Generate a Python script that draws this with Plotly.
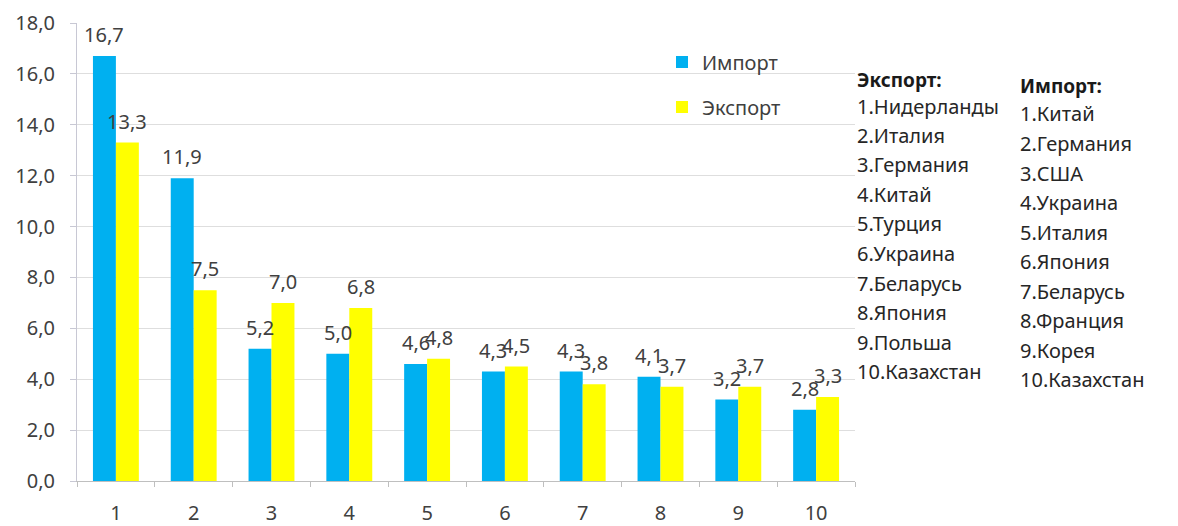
import plotly.graph_objects as go

# ---------------- data ----------------
categories = [str(i) for i in range(1, 11)]
import_values = [16.7, 11.9, 5.2, 5.0, 4.6, 4.3, 4.3, 4.1, 3.2, 2.8]
export_values = [13.3, 7.5, 7.0, 6.8, 4.8, 4.5, 3.8, 3.7, 3.7, 3.3]
y_ticks = [0, 2, 4, 6, 8, 10, 12, 14, 16, 18]
export_title = "Экспорт:"
export_partners = ["Нидерланды", "Италия", "Германия", "Китай", "Турция",
                   "Украина", "Беларусь", "Япония", "Польша", "Казахстан"]
import_title = "Импорт:"
import_partners = ["Китай", "Германия", "США", "Украина", "Италия",
                   "Япония", "Беларусь", "Франция", "Корея", "Казахстан"]

# ---------------- style ----------------
OFF = 8                       # page body margin
W, H = 1170, 518
ML, MR, MT, MB = 69, 323, 15, 45
PW, PH = W - ML - MR, H - MT - MB
FONT = "Noto Sans"
TXT = "#404040"
BLUE = "#00B0F0"
YELLOW = "#FFFF00"


def px_x(px):
    return (px - OFF - ML) / PW


def px_y(py):
    return (H - MB - (py - OFF)) / PH


fig = go.Figure()
fig.add_trace(go.Bar(x=categories, y=import_values, name="Импорт",
                     marker=dict(color=BLUE, line=dict(width=0)),
                     legend="legend"))
fig.add_trace(go.Bar(x=categories, y=export_values, name="Экспорт",
                     marker=dict(color=YELLOW, line=dict(width=0)),
                     legend="legend2"))

annotations = []
half = PW / len(categories) * (1 - 0.41) / 4
for vals, sh in ((import_values, -half), (export_values, half)):
    for i, v in enumerate(vals):
        annotations.append(dict(
            x=i, y=v, xref="x", yref="y", text=f"{v:.1f}".replace(".", ","),
            showarrow=False, xshift=sh, yshift=6, yanchor="bottom",
            font=dict(family=FONT, size=20, color=TXT)))

# side lists
for title, items, x0, ty, iy0 in ((export_title, export_partners, 855, 80, 106),
                                   (import_title, import_partners, 1018, 86, 114)):
    annotations.append(dict(
        x=px_x(x0), y=px_y(ty), xref="paper", yref="paper",
        text=f"<b>{title}</b>", showarrow=False, xanchor="left", yanchor="middle",
        font=dict(family=FONT, size=19, color="#1a1a1a")))
    for i, name in enumerate(items):
        annotations.append(dict(
            x=px_x(x0), y=px_y(iy0 + i * 29.5), xref="paper", yref="paper",
            text=f"{i + 1}.{name}", showarrow=False, xanchor="left", yanchor="middle",
            font=dict(family=FONT, size=20, color="#262626")))

fig.update_layout(
    width=W, height=H,
    margin=dict(l=ML, r=MR, t=MT, b=MB, pad=0, autoexpand=False),
    paper_bgcolor="white", plot_bgcolor="white",
    barmode="group", bargap=0.41, bargroupgap=0,
    separators=", ",
    font=dict(family=FONT, size=20, color=TXT),
    showlegend=True,
    legend=dict(x=px_x(662), y=px_y(62), xanchor="left", yanchor="middle",
                bgcolor="rgba(0,0,0,0)", font=dict(family=FONT, size=20, color=TXT),
                itemclick=False),
    legend2=dict(x=px_x(662), y=px_y(107), xanchor="left", yanchor="middle",
                 bgcolor="rgba(0,0,0,0)", font=dict(family=FONT, size=20, color=TXT),
                 itemclick=False),
    annotations=annotations,
    xaxis=dict(type="category", range=[-0.5, 9.5], showgrid=False, showline=True,
               linecolor="#bfbfbf", linewidth=1, ticks="outside", tickson="boundaries",
               ticklen=5, tickcolor="#bfbfbf", ticklabelstandoff=14, automargin=False,
               tickfont=dict(family=FONT, size=20, color=TXT), fixedrange=True),
    yaxis=dict(range=[0, 18], tickvals=y_ticks, tickformat=".1f",
               showgrid=True, gridcolor="#dedede", gridwidth=1,
               showline=True, linecolor="#c8c8d4", linewidth=1,
               ticks="outside", ticklen=6, tickcolor="#c8c8d4",
               ticklabelstandoff=11, zeroline=False, automargin=False,
               tickfont=dict(family=FONT, size=20, color=TXT), fixedrange=True),
)

fig.write_html("out.html")
